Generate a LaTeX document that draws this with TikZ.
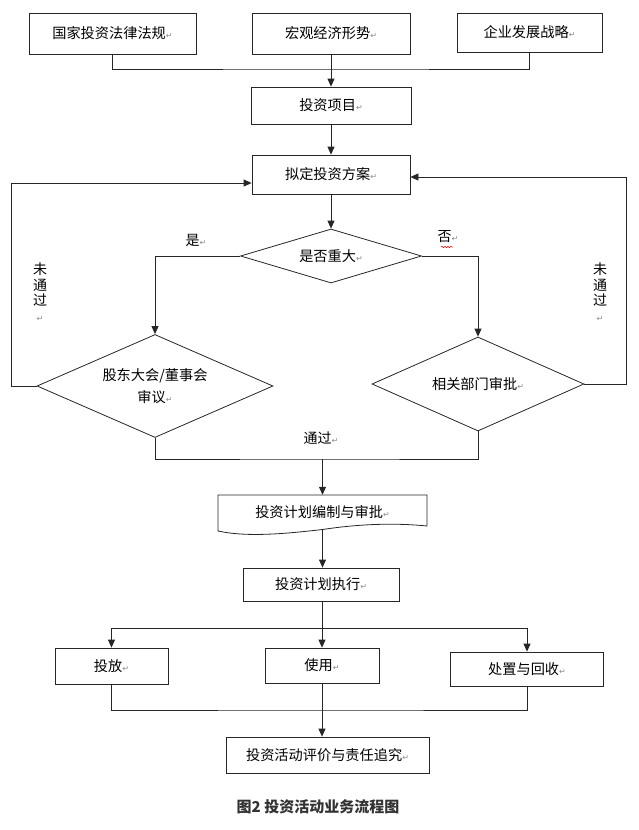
\documentclass[tikz,border=0pt]{standalone}
\usepackage{fontspec}
\setmainfont{Noto Sans CJK SC}
\newfontfamily\retfont{DejaVu Sans}
\usetikzlibrary{arrows.meta,shapes.geometric,calc,decorations.pathmorphing}
\newcommand\retmark{{\retfont\fontsize{8}{8}\selectfont\color{black!45}↵}}
\begin{document}
\begin{tikzpicture}[x=1pt,y=-1pt,
  ln/.style={draw=black!85, line width=0.8pt},
  arr/.style={ln, -{Triangle[length=8pt,width=7pt]}},
  box/.style={draw=black!85, line width=0.8pt, inner sep=0pt, font=\fontsize{14.2}{16}\selectfont},
  dia/.style={diamond, draw=black!85, line width=0.8pt, inner sep=0pt, align=center, font=\fontsize{14.2}{22}\selectfont},
  lbl/.style={inner sep=0pt, font=\fontsize{14}{16}\selectfont}]
\useasboundingbox (0,0) rectangle (638,830);
% top boxes
\node[box, minimum width=167pt, minimum height=41pt] (n1) at (112.5,33.5) {国家投资法律法规\retmark};
\node[box, minimum width=158pt, minimum height=41pt] (n2) at (331,33.5) {宏观经济形势\retmark};
\node[box, minimum width=145pt, minimum height=39pt] (n3) at (529.5,32.5) {企业发展战略\retmark};
\node[box, minimum width=160pt, minimum height=37pt] (xm) at (331,105.5) {投资项目\retmark};
\node[box, minimum width=158pt, minimum height=39pt] (plan) at (331,174.5) {拟定投资方案\retmark};
% decisions
\node[dia, aspect=3.35, minimum width=181pt, minimum height=54pt] (d1) at (331,256) {是否重大\retmark};
\node[dia, aspect=2.29, minimum width=236pt, minimum height=103pt] (d2) at (155,386) {股东大会/董事会\\审议\retmark};
\node[dia, aspect=2.26, minimum width=212pt, minimum height=94pt] (d3) at (478,384) {相关部门审批\retmark};
% document
\node[inner sep=0pt, minimum width=209pt, minimum height=35pt, font=\fontsize{14.2}{16}\selectfont] (doc) at (322.5,512.5) {投资计划编制与审批\retmark};
\begin{scope}[shift={(doc.center)}]
\draw[ln] (-104.5,18.5) -- (-104.5,-17.5) -- (104.5,-17.5) -- (104.5,13.5)
  .. controls (60,9) and (20,14) .. (0,17) .. controls (-35,21) and (-75,25) .. (-104.5,18.5);
\end{scope}
\node[box, minimum width=156pt, minimum height=33pt] (exe) at (321,584.5) {投资计划执行\retmark};
\node[box, minimum width=113pt, minimum height=36pt] (b1) at (111.5,666) {投放\retmark};
\node[box, minimum width=114pt, minimum height=35pt] (b2) at (322,665.5) {使用\retmark};
\node[box, minimum width=153pt, minimum height=34pt] (b3) at (527,669) {处置与回收\retmark};
\node[box, minimum width=203pt, minimum height=36pt] (fin) at (327.5,755) {投资活动评价与责任追究\retmark};
% labels
\node[lbl] (yes) at (196,240) {是\retmark};
\node[lbl] (no) at (448,237) {否\retmark};
\draw[red, line width=0.5pt, decorate, decoration={snake, amplitude=0.7pt, segment length=3pt}] (441,247) -- (453,247);
\node[lbl, align=center, font=\fontsize{14}{15.5}\selectfont] (nl) at (40,292) {未\\通\\过\\\retmark};
\node[lbl, align=center, font=\fontsize{14}{15.5}\selectfont] (nr) at (600,292) {未\\通\\过\\\retmark};
\node[lbl] (pass) at (321,438) {通过\retmark};
\node[inner sep=0pt, font=\fontsize{15}{17}\selectfont\bfseries, text=black!80] (cap) at (318,807) {图2 投资活动业务流程图};
% connectors
\coordinate (j1) at (331,69);
\draw[ln] (n1.south) |- (j1) -| (n3.south);
\draw[arr] (n2.south) -- (xm.north);
\draw[arr] (xm.south) -- (plan.north);
\draw[arr] (plan.south) -- (d1.north);
\draw[arr] (d1.west) -| (d2.north);
\draw[arr] (d1.east) -| (d3.north);
\coordinate (lx) at (11,0);
\coordinate (rx) at (626,0);
\draw[arr] (d2.west) -- (d2.west -| lx) |- ($(plan.west)+(0,8.5)$);
\draw[arr] (d3.east) -- (d3.east -| rx) |- ($(plan.east)+(0,2.5)$);
\coordinate (m2) at (322.5,459);
\draw[ln] (d2.south) |- (m2) -| (d3.south);
\draw[arr] (m2) -- (doc.north);
\draw[arr] (doc.south) -- (doc.south |- exe.north);
\coordinate (s) at (322,628);
\draw[ln] (exe.south -| s) -- (s);
\draw[arr] (s) -| (b1.north);
\draw[arr] (s) -| (b3.north);
\draw[arr] (s) -- (b2.north);
\coordinate (m3) at (322,710);
\draw[ln] (b1.south) |- (m3) -| (b3.south);
\draw[arr] (b2.south) -- (b2.south |- fin.north);
\end{tikzpicture}
\end{document}
